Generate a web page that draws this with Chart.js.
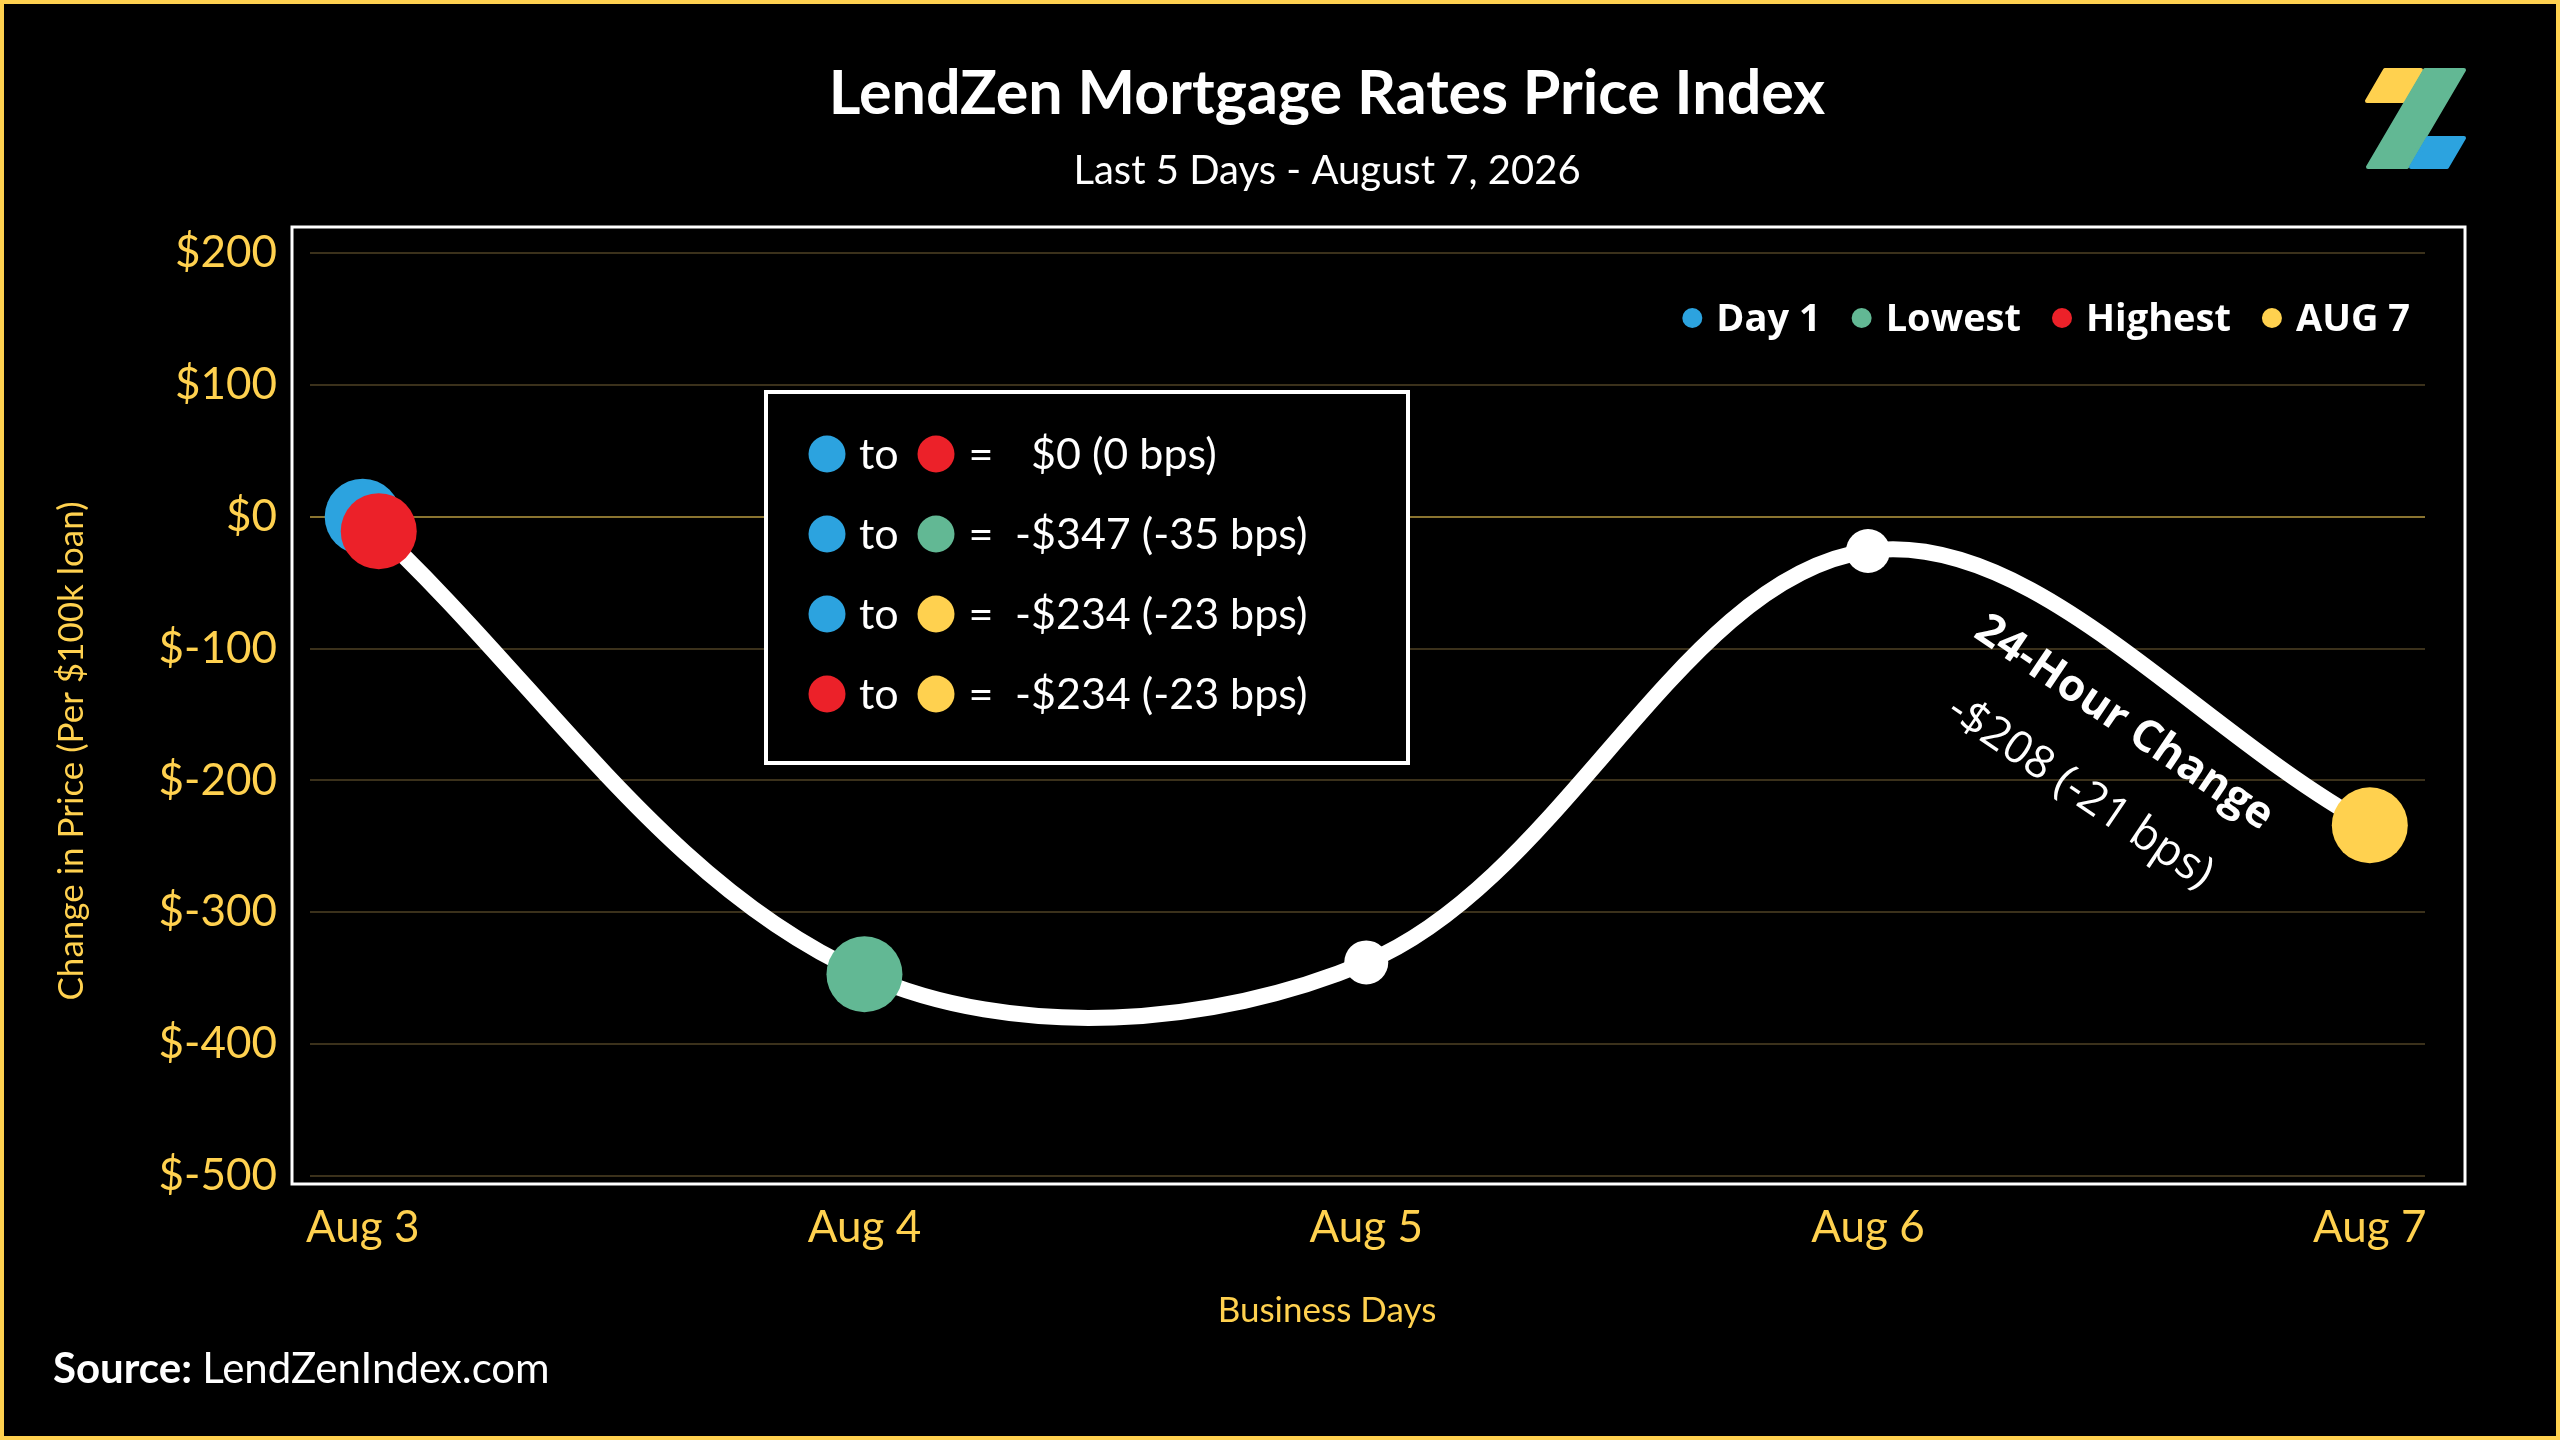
<!DOCTYPE html>
<html>
<head>
<meta charset="utf-8">
<title>LendZen Mortgage Rates Price Index</title>
<script src="https://cdn.jsdelivr.net/npm/chart.js@4.4.1/dist/chart.umd.min.js"></script>
<style>
  html, body { margin: 0; padding: 0; background: #000; }
  canvas { display: block; }
</style>
</head>
<body>
<canvas id="rateChart" width="2560" height="1440"></canvas>
<script>
// ---- data ----
const dayLabels = ['Aug 3', 'Aug 4', 'Aug 5', 'Aug 6', 'Aug 7'];
const priceChange = [0, -347, -338, -26, -234];
const yTicks = [200, 100, 0, -100, -200, -300, -400, -500];

const markerNames = ['Day 1', 'Lowest', 'Highest', 'AUG 7'];
const markerDays = [0, 1, 0, 4];
const markerValues = [0, -347, 0, -234];

const infoFrom = ['Day 1', 'Day 1', 'Day 1', 'Highest'];
const infoTo = ['Highest', 'Lowest', 'AUG 7', 'AUG 7'];
const infoText = ['$0 (0 bps)', '-$347 (-35 bps)', '-$234 (-23 bps)', '-$234 (-23 bps)'];

const changeTitle = '24-Hour Change';
const changeText = '-$208 (-21 bps)';

// ---- styles ----
const YELLOW = '#FFD14F';
const markerColors = {
  'Day 1': '#2CA3DF',
  'Lowest': '#62B894',
  'Highest': '#EC2129',
  'AUG 7': '#FFD14F'
};
// red "Highest" dot sits on top of the Day 1 dot, drawn a little to the side
const markerNudge = { 'Highest': { x: 0.032, y: -11 } };

const markerData = markerNames.map((name, i) => {
  const n = markerNudge[name] || { x: 0, y: 0 };
  return { x: markerDays[i] + n.x, y: markerValues[i] + n.y };
});

function roundPoly(ctx, pts, color) {
  ctx.beginPath();
  pts.forEach((p, i) => i ? ctx.lineTo(p[0], p[1]) : ctx.moveTo(p[0], p[1]));
  ctx.closePath();
  ctx.fillStyle = color;
  ctx.strokeStyle = color;
  ctx.lineWidth = 4;
  ctx.lineJoin = 'round';
  ctx.fill();
  ctx.stroke();
}

function dot(ctx, x, y, r, color) {
  ctx.beginPath();
  ctx.arc(x, y, r, 0, Math.PI * 2);
  ctx.fillStyle = color;
  ctx.fill();
}

const decor = {
  id: 'decor',
  beforeDraw(chart) {
    const { ctx, width, height, chartArea: a } = chart;
    ctx.save();
    ctx.fillStyle = '#000';
    ctx.fillRect(0, 0, width, height);
    // white plot frame
    ctx.strokeStyle = '#fff';
    ctx.lineWidth = 3;
    ctx.strokeRect(a.left - 18, a.top - 26, a.right - a.left + 58, a.bottom - a.top + 34);
    ctx.restore();
  },
  afterDraw(chart) {
    const { ctx, width, height } = chart;
    const xs = chart.scales.x, ys = chart.scales.y;
    ctx.save();

    // titles
    ctx.fillStyle = '#fff';
    ctx.textAlign = 'center';
    ctx.textBaseline = 'alphabetic';
    ctx.font = 'bold 61px Lato';
    ctx.fillText('LendZen Mortgage Rates Price Index', 1327, 114);
    ctx.font = '40px Lato';
    ctx.fillText('Last 5 Days - August 7, 2026', 1327, 184);

    // axis titles
    ctx.fillStyle = YELLOW;
    ctx.font = '35px Lato';
    ctx.fillText('Business Days', 1327, 1322);
    ctx.save();
    ctx.translate(72, 751);
    ctx.rotate(-Math.PI / 2);
    ctx.font = '35px Lato';
    ctx.textBaseline = 'middle';
    ctx.fillText('Change in Price (Per $100k loan)', 0, 0);
    ctx.restore();

    // legend (top right, inside plot)
    ctx.font = 'bold 38px "Open Sans"';
    ctx.textAlign = 'left';
    const widths = markerNames.map(n => ctx.measureText(n).width);
    const total = widths.reduce((s, w) => s + w + 24, 0) + 41 * (markerNames.length - 1);
    let lx = 2410 - total;
    markerNames.forEach((name, i) => {
      dot(ctx, lx, 318, 10, markerColors[name]);
      ctx.fillStyle = '#fff';
      ctx.fillText(name, lx + 24, 331);
      lx += 24 + widths[i] + 41;
    });

    // comparison box
    ctx.fillStyle = '#000';
    ctx.fillRect(766, 392, 642, 371);
    ctx.strokeStyle = '#fff';
    ctx.lineWidth = 4;
    ctx.strokeRect(766, 392, 642, 371);
    ctx.font = '43px Lato';
    const dashW = ctx.measureText('-').width;
    infoText.forEach((txt, i) => {
      const cy = 454 + i * 80;
      dot(ctx, 827, cy, 18.5, markerColors[infoFrom[i]]);
      dot(ctx, 936, cy, 18.5, markerColors[infoTo[i]]);
      ctx.fillStyle = '#fff';
      ctx.textAlign = 'left';
      ctx.fillText('to', 859, cy + 15);
      ctx.textAlign = 'center';
      ctx.fillText('=', 981, cy + 15);
      ctx.textAlign = 'left';
      ctx.fillText(txt, txt.startsWith('-') ? 1031 - dashW : 1031, cy + 15);
    });

    // 24-hour change note along the last segment
    const n = priceChange.length;
    const ax = xs.getPixelForValue(n - 1.5) + 5;
    const ay = ys.getPixelForValue((priceChange[n - 2] + priceChange[n - 1]) / 2) + 35;
    ctx.save();
    ctx.translate(ax, ay);
    ctx.rotate(34 * Math.PI / 180);
    ctx.fillStyle = '#fff';
    ctx.textAlign = 'center';
    ctx.textBaseline = 'middle';
    ctx.font = 'bold 44px "Open Sans"';
    ctx.fillText(changeTitle, 0, 0);
    ctx.font = '45px "Open Sans"';
    ctx.fillText(changeText, 2, 82);
    ctx.restore();

    // logo
    roundPoly(ctx, [[2385, 70], [2421, 70], [2403, 101], [2367, 101]], '#FFD14F');
    roundPoly(ctx, [[2425, 70], [2464, 70], [2407, 167], [2368, 167]], '#62B894');
    roundPoly(ctx, [[2428, 138], [2464, 138], [2447, 167], [2411, 167]], '#2CA3DF');

    // source
    ctx.fillStyle = '#fff';
    ctx.textAlign = 'left';
    ctx.textBaseline = 'alphabetic';
    ctx.font = 'bold 42px Lato';
    ctx.fillText('Source:', 53, 1383);
    const sw = ctx.measureText('Source: ').width;
    ctx.font = '42px Lato';
    ctx.fillText('LendZenIndex.com', 53 + sw, 1383);

    // outer yellow border
    ctx.strokeStyle = YELLOW;
    ctx.lineWidth = 8;
    ctx.strokeRect(0, 0, width, height);
    ctx.restore();
  }
};

new Chart(document.getElementById('rateChart'), {
  type: 'line',
  data: {
    datasets: [
      {
        type: 'scatter',
        label: 'Markers',
        data: markerData,
        pointRadius: 38,
        pointBackgroundColor: markerNames.map(n => markerColors[n]),
        pointBorderWidth: 0,
        order: 0
      },
      {
        label: 'Change in Price',
        data: priceChange.map((v, i) => ({ x: i, y: v })),
        borderColor: '#fff',
        borderWidth: 16,
        tension: 0.35,
        fill: false,
        pointRadius: [0, 0, 22, 22, 0],
        pointBackgroundColor: '#fff',
        pointBorderWidth: 0,
        order: 1
      }
    ]
  },
  options: {
    responsive: false,
    devicePixelRatio: 1,
    animation: false,
    events: [],
    layout: { padding: { top: 253, right: 135, left: 0, bottom: 0 } },
    plugins: {
      legend: { display: false },
      title: { display: false },
      tooltip: { enabled: false }
    },
    scales: {
      x: {
        type: 'linear',
        min: -0.105,
        max: 4.11,
        afterFit: s => { s.height = 264; },
        afterBuildTicks: s => { s.ticks = dayLabels.map((_, i) => ({ value: i })); },
        grid: { display: false },
        border: { display: false },
        ticks: {
          autoSkip: false,
          maxRotation: 0,
          padding: 17,
          color: YELLOW,
          font: { family: 'Lato', size: 44 },
          callback: v => dayLabels[v]
        }
      },
      y: {
        min: -500,
        max: 200,
        afterFit: s => { s.width = 310; },
        afterBuildTicks: s => { s.ticks = yTicks.map(v => ({ value: v })); },
        grid: {
          color: c => c.tick.value === 0 ? '#8a7430' : '#3b311b',
          lineWidth: 2,
          drawTicks: false
        },
        border: { display: false },
        ticks: {
          padding: 33,
          color: YELLOW,
          font: { family: 'Lato', size: 44 },
          callback: v => '$' + v
        }
      }
    }
  },
  plugins: [decor]
});
</script>
</body>
</html>
